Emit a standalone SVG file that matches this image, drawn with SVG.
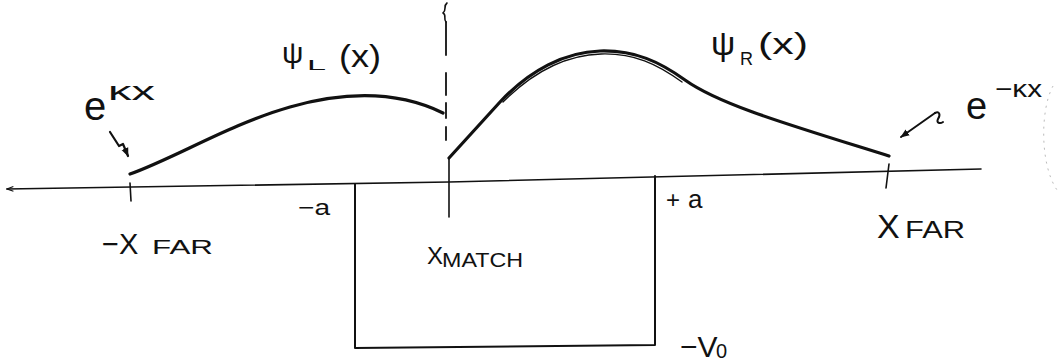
<svg xmlns="http://www.w3.org/2000/svg" width="1061" height="362" viewBox="0 0 1061 362">
<style>
.ln{fill:none;stroke:#111;stroke-linecap:round;stroke-linejoin:round}
.ax{stroke-width:1.6}
.box{stroke-width:2}
.wave{stroke-width:3.2}
.t{font-family:"Liberation Sans",Arial,sans-serif;fill:#111}
</style>
<defs>
<marker id="arr" viewBox="0 0 10 10" refX="9" refY="5" markerWidth="9" markerHeight="9" markerUnits="userSpaceOnUse" orient="auto">
<path d="M0,1 L10,5 L0,9 Z" fill="#111"/>
</marker>
<marker id="axarr" viewBox="0 0 10 10" refX="9" refY="5" markerWidth="8" markerHeight="8" markerUnits="userSpaceOnUse" orient="auto">
<path d="M1,2 L9,5 L1,8" fill="none" stroke="#111" stroke-width="1.4"/>
</marker>
</defs>
<rect width="1061" height="362" fill="#fff"/>

<g id="axis">
<path class="ln ax" d="M981,169 L449,182 L7,189" marker-end="url(#axarr)"/>
<path class="ln ax" d="M130,183 L131,201"/>
<path class="ln ax" d="M449,158 L449,217"/>
<path class="ln ax" d="M889,164 L886,188"/>
</g>

<g id="well">
<path class="ln box" d="M355,184 L355,348 L655,345 L655,176"/>
</g>

<g id="match-line">
<path class="ln" stroke-width="1.6" d="M447,3 C443,6 447,10 443,13 C447,15 443,19 446,22"/>
<path class="ln" stroke-width="1.8" d="M446,22 L446,55 M446,73 L446,95 M446,103 L446,118 M446,127 L446,140"/>
</g>

<g id="psi-left">
<path class="ln wave" d="M130,174 C175,158 230,124 290,107 S400,92 443,113"/>
<text class="t" x="282" y="63" font-size="30">ψ<tspan x="307" y="70" font-size="15" textLength="19" lengthAdjust="spacingAndGlyphs">L</tspan><tspan x="339" y="67" font-size="32" textLength="42" lengthAdjust="spacingAndGlyphs">(x)</tspan></text>
</g>

<g id="psi-right">
<path class="ln wave" d="M449,158 L500,102 C530,70 565,52 600,51 C635,50 660,62 685,80 C720,105 790,125 889,156"/>
<path class="ln" stroke-width="1.3" d="M503,102 C533,72 567,55 601,54 C634,53 657,64 682,82"/>
<text class="t" x="711" y="55" font-size="34">ψ<tspan x="740" y="65" font-size="18">R</tspan><tspan x="758" y="54" font-size="30" textLength="50" lengthAdjust="spacingAndGlyphs">(x)</tspan></text>
</g>

<g id="label-exp-left">
<text class="t" x="84" y="120" font-size="40">e<tspan x="108" y="100" font-size="26" textLength="47" lengthAdjust="spacingAndGlyphs">κx</tspan></text>
</g>

<g id="label-exp-right">
<text class="t" x="966" y="119" font-size="38">e<tspan x="995" y="97" font-size="24" textLength="47" lengthAdjust="spacingAndGlyphs">−κx</tspan></text>
</g>

<g id="label-xfar-left">
<text class="t" x="102" y="254" font-size="29">−X<tspan x="152" y="254" font-size="21" textLength="61" lengthAdjust="spacingAndGlyphs">FAR</tspan></text>
</g>

<g id="label-minus-a">
<text class="t" x="298" y="215" font-size="22" textLength="32" lengthAdjust="spacingAndGlyphs">−a</text>
</g>

<g id="label-xmatch">
<text class="t" x="427" y="264" font-size="24">X<tspan x="442" y="267" font-size="21" textLength="81" lengthAdjust="spacingAndGlyphs">MATCH</tspan></text>
</g>

<g id="label-plus-a">
<text class="t" x="666" y="208" font-size="24">+<tspan x="688" font-size="26">a</tspan></text>
</g>

<g id="label-xfar-right">
<text class="t" x="877" y="238" font-size="34">X<tspan x="905" y="238" font-size="23" textLength="60" lengthAdjust="spacingAndGlyphs">FAR</tspan></text>
</g>

<g id="label-v0">
<text class="t" x="680" y="357" font-size="30">−V<tspan x="716" y="358" font-size="20">0</tspan></text>
</g>

<g id="connectors">
<path class="ln" stroke-width="2.2" d="M110,132 L119,146 L123,144 L128,156" marker-end="url(#arr)"/>
<path class="ln" stroke-width="2" d="M935,113 L901,137" marker-end="url(#arr)"/>
<path class="ln" stroke-width="2" d="M935,113 C939,111 941,114 938,119 C936,123 940,124 943,122"/>
</g>

<path fill="none" stroke="#bbb" stroke-width="1" stroke-dasharray="2 5" d="M1053,86 C1040,110 1040,165 1057,190"/>
</svg>
